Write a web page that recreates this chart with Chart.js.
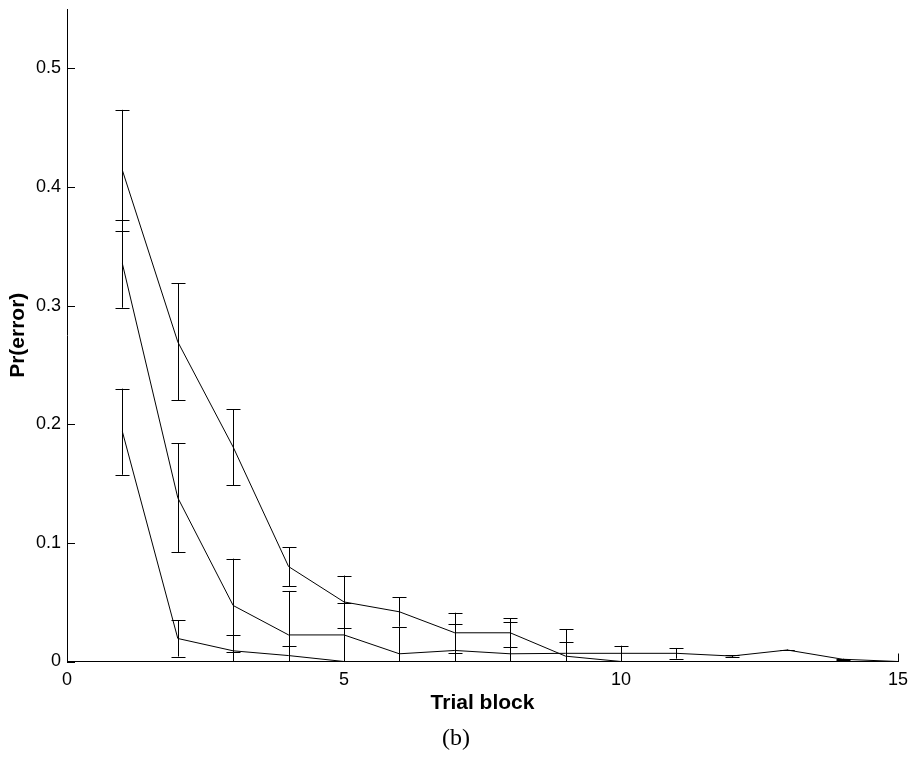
<!DOCTYPE html>
<html lang="en">
<head>
    <meta charset="UTF-8">
    <title>Pr(error) por bloco</title>
    <script src="https://cdn.jsdelivr.net/npm/chart.js"></script>
    <style>
        html, body { margin: 0; padding: 0; background: #fff; }
        .chart-container { position: relative; width: 910px; height: 758px; }
    </style>
</head>
<body>
    <div class="chart-container">
        <canvas id="myChartErro"></canvas>
    </div>

<script>
    // blocos de tentativa e as tres curvas (media e meia-barra de erro)
    const blocks = [1, 2, 3, 4, 5, 6, 7, 8, 9, 10, 11, 12, 13, 14, 15];

    const meanA = [0.414, 0.2694, 0.1807, 0.080, 0.0502, 0.0419, 0.0242, 0.0242, 0.0045, 0, 0, 0, 0, 0, 0];
    const errA  = [0.051, 0.0493, 0.032, 0.0164, 0.0222, 0.0124, 0.0169, 0.0123, 0.0122, 0, 0, 0, 0, 0, 0];

    const meanB = [0.3353, 0.138, 0.0472, 0.0224, 0.0224, 0.0065, 0.0093, 0.0065, 0.0069, 0.0069, 0.0069, 0.0046, 0.0097, 0.0019, 0];
    const errB  = [0.0371, 0.0458, 0.0395, 0.0371, 0.0272, 0.023, 0.0219, 0.0272, 0.0205, 0.0064, 0.0045, 0.0008, 0.0004, 0.0004, 0];

    const meanC = [0.1937, 0.0194, 0.009, 0.005, 0, 0, 0, 0, 0, 0, 0, 0, 0, 0, 0];
    const errC  = [0.0363, 0.0152, 0.0136, 0.0081, 0, 0, 0, 0, 0, 0, 0, 0, 0, 0, 0];

    const xTicks = [0, 5, 10, 15];
    const yTicks = [0, 0.1, 0.2, 0.3, 0.4, 0.5];

    Chart.defaults.font.family = '"Liberation Sans", Arial, sans-serif';
    Chart.defaults.color = '#000';

    function serie(means, errs) {
        return {
            data: blocks.map((b, i) => ({ x: b, y: means[i] })),
            errors: errs,
            borderColor: '#000',
            backgroundColor: '#000',
            borderWidth: 1,
            pointRadius: 0,
            tension: 0,
            clip: false
        };
    }

    // barras de erro com traco horizontal nas pontas
    const errorBars = {
        id: 'errorBars',
        afterDatasetsDraw(chart) {
            const { ctx, chartArea, scales: { x, y } } = chart;
            ctx.save();
            ctx.strokeStyle = '#000';
            ctx.lineWidth = 1;
            chart.data.datasets.forEach(ds => {
                ds.data.forEach((p, i) => {
                    const e = ds.errors[i];
                    const px = Math.round(x.getPixelForValue(p.x)) + 0.5;
                    const top = y.getPixelForValue(p.y + e);
                    const bot = y.getPixelForValue(p.y - e);
                    ctx.beginPath();
                    ctx.moveTo(px, top);
                    ctx.lineTo(px, Math.min(bot, chartArea.bottom));
                    [top, bot].forEach(yy => {
                        // pontas que caem no eixo ou abaixo nao aparecem
                        if (yy < chartArea.bottom - 0.5) {
                            ctx.moveTo(px - 7, Math.round(yy) + 0.5);
                            ctx.lineTo(px + 7, Math.round(yy) + 0.5);
                        }
                    });
                    ctx.stroke();
                });
            });
            ctx.restore();
        }
    };

    // marcas dos eixos para dentro e o rotulo (b)
    const innerTicks = {
        id: 'innerTicks',
        afterDraw(chart) {
            const { ctx, chartArea, scales: { x, y } } = chart;
            ctx.save();
            ctx.strokeStyle = '#000';
            ctx.lineWidth = 1;
            ctx.beginPath();
            yTicks.forEach(v => {
                const py = Math.round(y.getPixelForValue(v)) + 0.5;
                ctx.moveTo(chartArea.left, py);
                ctx.lineTo(chartArea.left + 8, py);
            });
            xTicks.forEach(v => {
                const px = Math.round(x.getPixelForValue(v)) + 0.5;
                ctx.moveTo(px, chartArea.bottom);
                ctx.lineTo(px, chartArea.bottom - 8);
            });
            ctx.stroke();

            ctx.fillStyle = '#000';
            ctx.font = '24px "Liberation Serif", "DejaVu Serif", serif';
            ctx.textAlign = 'center';
            ctx.textBaseline = 'middle';
            ctx.fillText('(b)', 456, 739);
            ctx.restore();
        }
    };

    function ctxErro() {
        const ctx = document.getElementById('myChartErro').getContext('2d');
        const config = {
            type: 'line',
            data: {
                datasets: [serie(meanA, errA), serie(meanB, errB), serie(meanC, errC)]
            },
            options: {
                responsive: true,
                maintainAspectRatio: false,
                animation: false,
                layout: { padding: { top: 9, right: 12, bottom: 36, left: 0 } },
                plugins: {
                    legend: { display: false },
                    tooltip: { enabled: false }
                },
                scales: {
                    x: {
                        type: 'linear',
                        min: 0,
                        max: 15,
                        afterBuildTicks: s => { s.ticks = xTicks.map(v => ({ value: v })); },
                        afterFit: s => { s.height = 60.5; s.paddingLeft = 0; s.paddingRight = 0; },
                        grid: { display: false, drawTicks: false },
                        border: { display: true, color: '#000', width: 1 },
                        ticks: { padding: 8, font: { size: 18 } },
                        title: {
                            display: true,
                            text: 'Trial block',
                            font: { size: 21, weight: 'bold' },
                            padding: { top: 0, bottom: 6 }
                        }
                    },
                    y: {
                        type: 'linear',
                        min: 0,
                        max: 0.55,
                        afterBuildTicks: s => { s.ticks = yTicks.map(v => ({ value: v })); },
                        afterFit: s => { s.width = 67; s.paddingTop = 0; s.paddingBottom = 0; },
                        grid: { display: false, drawTicks: false },
                        border: { display: true, color: '#000', width: 1 },
                        ticks: { padding: 6, font: { size: 18 } },
                        title: {
                            display: true,
                            text: 'Pr(error)',
                            font: { size: 21, weight: 'bold' },
                            padding: { top: 6, bottom: 0 }
                        }
                    }
                }
            },
            plugins: [errorBars, innerTicks]
        };
        new Chart(ctx, config);
    }

    ctxErro()
</script>
</body>
</html>
